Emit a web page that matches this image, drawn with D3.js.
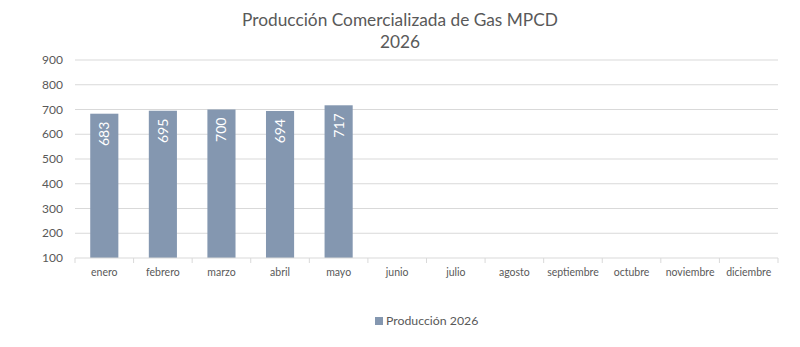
<!DOCTYPE html>
<html lang="es">
<head>
<meta charset="UTF-8">
<title>Producción Comercializada de Gas MPCD 2026</title>
<script src="https://d3js.org/d3.v7.min.js"></script>
<style>
  body { margin: 0; background: #fff; font-family: Lato, "Open Sans", sans-serif; }
  svg text { fill: #595959; }
</style>
</head>
<body>
<svg id="chart"></svg>
<script>
const width = 800, height = 347;

const months = ["enero", "febrero", "marzo", "abril", "mayo", "junio", "julio",
                "agosto", "septiembre", "octubre", "noviembre", "diciembre"];
const produccion = [683, 695, 700, 694, 717, null, null, null, null, null, null, null];
const yTicks = [100, 200, 300, 400, 500, 600, 700, 800, 900];
const titleLines = ["Producción Comercializada de Gas MPCD", "2026"];
const seriesName = "Producción 2026";

const margin = { top: 60, right: 22, bottom: 89, left: 75 };
const barColor = "#8497b0";

const svg = d3.select("#chart").attr("width", width).attr("height", height);

const x = d3.scaleBand().domain(months)
    .range([margin.left, width - margin.right]).paddingInner(0.52).paddingOuter(0.26);
const y = d3.scaleLinear().domain([100, 900]).range([height - margin.bottom, margin.top]);

// title
svg.append("g").selectAll("text").data(titleLines).join("text")
    .attr("x", width / 2)
    .attr("y", (d, i) => 26 + i * 22)
    .attr("text-anchor", "middle")
    .attr("font-size", 17.3)
    .text(d => d);

// gridlines
svg.append("g").selectAll("line").data(yTicks.slice(1)).join("line")
    .attr("x1", margin.left).attr("x2", width - margin.right)
    .attr("y1", d => y(d)).attr("y2", d => y(d))
    .attr("stroke", "#d9d9d9").attr("stroke-width", 1);

// y axis labels
svg.append("g").selectAll("text").data(yTicks).join("text")
    .attr("x", margin.left - 12)
    .attr("y", d => y(d))
    .attr("dy", "0.35em")
    .attr("text-anchor", "end")
    .attr("font-size", 12)
    .text(d => d);

// bars
const barData = months.map((m, i) => ({ m, v: produccion[i] })).filter(d => d.v != null);
svg.append("g").selectAll("rect").data(barData).join("rect")
    .attr("x", d => x(d.m))
    .attr("y", d => y(d.v))
    .attr("width", x.bandwidth())
    .attr("height", d => y(100) - y(d.v))
    .attr("fill", barColor);

// data labels (rotated, inside top)
svg.append("g").selectAll("text").data(barData).join("text")
    .attr("transform", d => `translate(${x(d.m) + x.bandwidth() / 2},${y(d.v) + 8}) rotate(-90)`)
    .attr("text-anchor", "end")
    .attr("dy", "0.35em")
    .attr("font-size", 14)
    .style("fill", "#fff")
    .text(d => d.v);

// x axis
const xAxis = svg.append("g").attr("transform", `translate(0,${y(100)})`);
xAxis.append("line")
    .attr("x1", margin.left).attr("x2", width - margin.right)
    .attr("stroke", "#d9d9d9");
const bounds = d3.range(months.length + 1).map(i => margin.left + i * x.step());
xAxis.selectAll("line.tick").data(bounds).join("line")
    .attr("class", "tick")
    .attr("x1", d => d).attr("x2", d => d)
    .attr("y1", 0).attr("y2", 5)
    .attr("stroke", "#d9d9d9");
xAxis.selectAll("text").data(months).join("text")
    .attr("x", d => x(d) + x.bandwidth() / 2)
    .attr("y", 18)
    .attr("text-anchor", "middle")
    .attr("font-size", 10.5)
    .text(d => d);

// legend
const legend = svg.append("g").attr("transform", "translate(375,321)");
legend.append("rect").attr("x", 0).attr("y", -4).attr("width", 8).attr("height", 8).attr("fill", barColor);
legend.append("text").attr("x", 11).attr("dy", "0.35em").attr("font-size", 12.3).text(seriesName);
</script>
</body>
</html>
